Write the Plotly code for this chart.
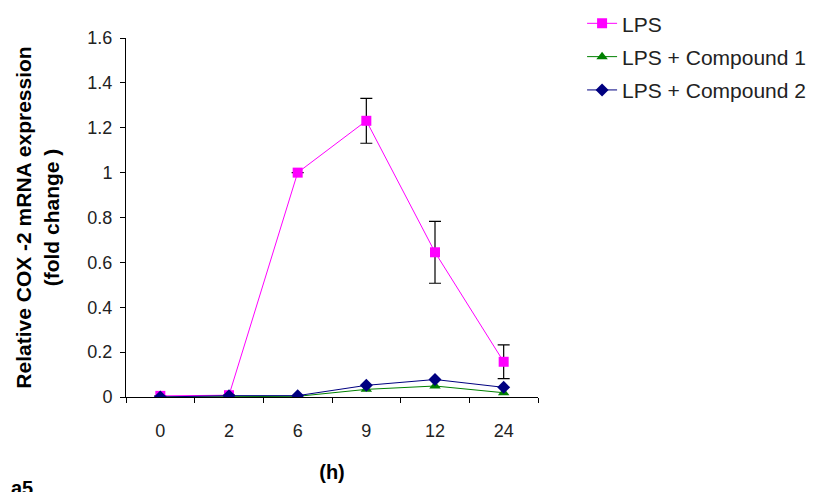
import plotly.graph_objects as go

hours = ["0", "2", "6", "9", "12", "24"]
lps = [0.005, 0.008, 1.0, 1.231, 0.645, 0.157]
lps_err = [0, 0, 0, 0.10, 0.138, 0.075]
comp1 = [0.0, 0.003, 0.003, 0.034, 0.049, 0.019]
comp2 = [0.0, 0.006, 0.006, 0.052, 0.078, 0.043]

FONT = "Liberation Sans, Arial, sans-serif"

fig = go.Figure()
fig.add_trace(go.Scatter(
    x=hours, y=lps, name="LPS", mode="lines+markers", legendgroup="a",
    line=dict(color="#FF00FF", width=1),
    marker=dict(symbol="square", size=10, color="#FF00FF"),
    error_y=dict(type="data", array=lps_err, visible=True, color="black", thickness=1.2, width=6),
))
fig.add_trace(go.Scatter(
    x=hours, y=comp1, name="LPS + Compound 1", mode="lines+markers", legendgroup="b",
    line=dict(color="#008000", width=1),
    marker=dict(symbol="triangle-up", size=10, color="#008000"),
))
fig.add_trace(go.Scatter(
    x=hours, y=comp2, name="LPS + Compound 2", mode="lines+markers", legendgroup="c",
    line=dict(color="#000080", width=1),
    marker=dict(symbol="diamond", size=10, color="#000080"),
))

fig.update_layout(
    width=834, height=492,
    margin=dict(l=126, r=296, t=38, b=95, autoexpand=False),
    paper_bgcolor="white", plot_bgcolor="white",
    font=dict(family=FONT, size=18, color="#222"),
    showlegend=True,
    legend=dict(x=1.107, y=1.097, xanchor="left", yanchor="top",
                font=dict(family=FONT, size=21, color="#222"),
                bgcolor="rgba(0,0,0,0)", traceorder="grouped", tracegroupgap=3),
    xaxis=dict(
        type="category", range=[-0.5, 5.5],
        showline=True, linecolor="black", linewidth=1,
        ticks="outside", ticklen=5, tickcolor="black", tickson="boundaries",
        showgrid=False, zeroline=False, ticklabelstandoff=17,
        tickfont=dict(family=FONT, size=18, color="#222"),
        title=dict(text="<b>(h)</b>", font=dict(family=FONT, size=20, color="black"), standoff=25),
    ),
    yaxis=dict(
        range=[0, 1.6], dtick=0.2, tickformat="~g",
        showline=True, linecolor="black", linewidth=1,
        ticks="outside", ticklen=5, tickcolor="black",
        showgrid=False, zeroline=False, ticklabelstandoff=4,
        tickfont=dict(family=FONT, size=18, color="#222"),
        title=dict(text="<b>Relative COX -2 mRNA expression<br>(fold change )</b>",
                   font=dict(family=FONT, size=21, color="black"), standoff=22),
    ),
    annotations=[dict(text="<b>a5</b>", xref="paper", yref="paper",
                      x=-0.283, y=-0.217, xanchor="left", yanchor="top",
                      showarrow=False, font=dict(family=FONT, size=20, color="black"))],
)

fig.write_html("out.html", config={"displayModeBar": False},
               post_script="document.body.style.margin='0';document.body.style.overflow='hidden';")
